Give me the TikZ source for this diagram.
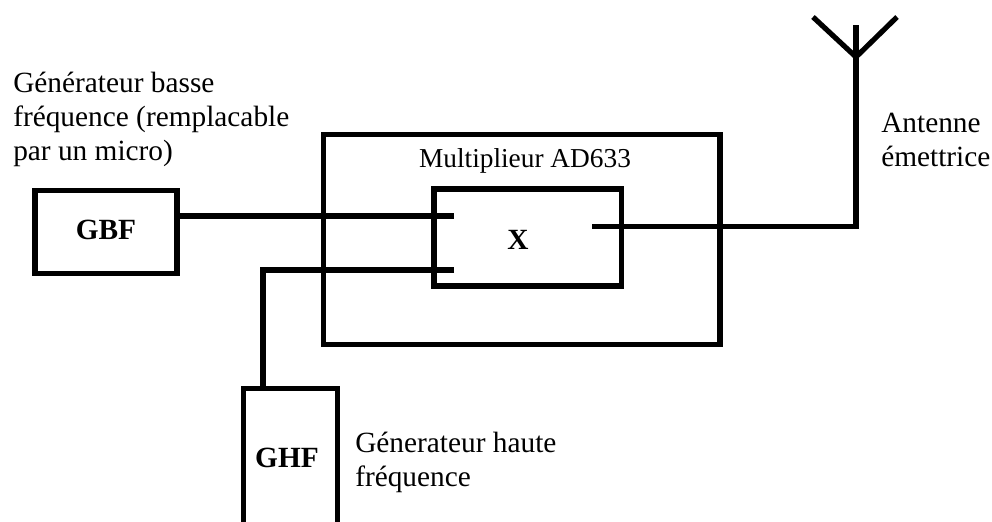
\documentclass[tikz,border=0pt]{standalone}
\usepackage{fontspec}
\setmainfont{Liberation Serif}
\usetikzlibrary{positioning,calc}

\begin{document}
\begin{tikzpicture}[
  x=0.75pt, y=-0.75pt,
  wire/.style={line width=3.9pt},
  block/.style={draw, line width=3.9pt, inner sep=0pt, align=center, font=\fontsize{22}{26}\selectfont\bfseries},
  note/.style={inner sep=0pt, align=left, anchor=north west, font=\fontsize{22}{25.5}\selectfont}
]
\useasboundingbox (0,0) rectangle (992,521);

\node[block, minimum width=106.5pt, minimum height=62.6pt, text depth=3pt] (gbf) at (106,232) {GBF};
\node[block, minimum width=297.4pt, minimum height=157.5pt] (mult) at (521.75,239.5) {};
\node[block, minimum width=140.6pt, minimum height=72.75pt] (prod) at (527.75,237.5) {};
\node[block, minimum width=70.5pt, minimum height=104.25pt] (ghf) at (290.5,458) {\hspace*{-5.25pt}GHF};
\node[block, draw=none] (cross) at (518,240) {X};

\node[note] (gbftext) at (13,72) {Générateur basse\\fréquence (remplacable\\par un micro)};
\node[note] (ghftext) at (355,432) {Génerateur haute\\fréquence};
\node[note] (anttext) at (881,113) {Antenne\\émettrice};
\node[note, anchor=center, font=\fontsize{20.5}{25}\selectfont] (multtext) at (525,161) {Multiplieur AD633};

% entrees et sortie du multiplieur
\coordinate (inx) at (454,216);
\coordinate (iny) at (454,270);
\coordinate (out) at (592,226.5);
\coordinate (foot) at (856,57);
\coordinate (top) at (856,25);
\coordinate (armleft) at (813,17);
\coordinate (armright) at (897,17);

\draw[wire] (gbf.east |- inx) -- (inx);
\draw[wire] (iny) -- (263,270) -- (263,388.5);
\draw[wire] (out) -| (foot);
\draw[wire] (foot) -- (top);
\draw[wire] (armleft) -- (foot) -- (armright);

\end{tikzpicture}
\end{document}
